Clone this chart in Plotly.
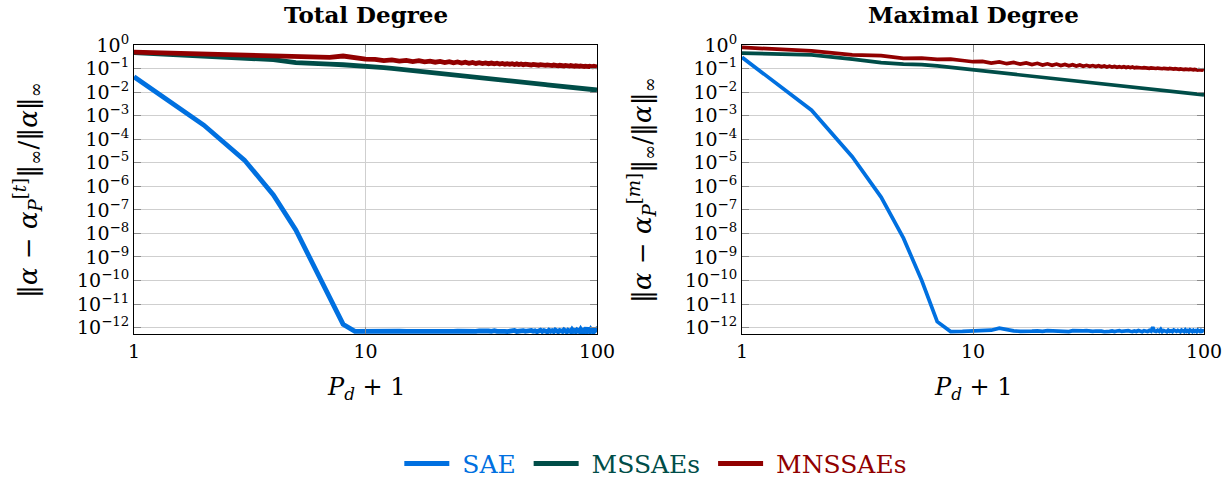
import plotly.graph_objects as go

# ---------------- data ----------------
pd_plus_1 = list(range(1, 101))

sae_total = [
    4.5e-2, 4.0e-4, 1.3e-5, 4.3e-7, 1.4e-8, 4.0e-10, 2.3e-11, 1.4e-12, 7.0e-13,
    7.2e-13, 7.1e-13, 7.2e-13, 7.0e-13, 7.1e-13, 7.0e-13, 6.9e-13, 7.0e-13, 6.9e-13, 6.8e-13,
    6.6e-13, 6.5e-13, 6.8e-13, 7.0e-13, 6.9e-13, 7.1e-13, 7.0e-13, 6.8e-13, 7.2e-13, 7.0e-13,
    6.9e-13, 7.3e-13, 7.0e-13, 6.8e-13, 7.2e-13, 7.0e-13, 7.4e-13, 6.9e-13, 7.1e-13, 7.5e-13,
    7.0e-13, 6.8e-13, 7.3e-13, 7.1e-13, 7.6e-13, 6.9e-13, 7.2e-13, 6.7e-13, 7.5e-13, 7.0e-13,
    7.3e-13, 6.8e-13, 7.6e-13, 7.0e-13, 7.4e-13, 6.7e-13, 7.3e-13, 7.8e-13, 6.9e-13, 7.5e-13,
    7.1e-13, 6.6e-13, 7.7e-13, 7.0e-13, 7.4e-13, 6.8e-13, 7.9e-13, 7.1e-13, 6.7e-13, 7.6e-13,
    7.2e-13, 6.9e-13, 8.0e-13, 7.0e-13, 6.6e-13, 7.7e-13, 7.3e-13, 6.8e-13, 8.2e-13, 7.0e-13,
    7.5e-13, 6.7e-13, 7.9e-13, 7.1e-13, 6.8e-13, 8.4e-13, 7.0e-13, 7.6e-13, 6.6e-13, 8.0e-13,
    9.8e-13, 7.1e-13, 7.7e-13, 6.8e-13, 8.3e-13, 7.2e-13, 6.7e-13, 9.0e-13, 7.4e-13, 8.1e-13,
    6.9e-13,
]

mssae_total = [
    0.47, 0.32, 0.27, 0.24, 0.18, 0.175, 0.155, 0.145, 0.138, 0.132,
    0.12, 0.109, 0.102, 0.095, 0.088, 0.083, 0.078, 0.074, 0.069, 0.065,
    0.062, 0.059, 0.057, 0.054, 0.051, 0.049, 0.047, 0.046, 0.044, 0.0425,
    0.041, 0.040, 0.039, 0.038, 0.036, 0.035, 0.034, 0.033, 0.032, 0.0316,
    0.031, 0.030, 0.0295, 0.029, 0.028, 0.0274, 0.027, 0.026, 0.0256, 0.0251,
    0.0247, 0.0242, 0.0237, 0.0232, 0.0228, 0.0224, 0.022, 0.0215, 0.0212, 0.0208,
    0.0204, 0.0201, 0.0198, 0.0195, 0.0192, 0.0189, 0.0186, 0.0183, 0.018, 0.0178,
    0.0175, 0.0173, 0.017, 0.0168, 0.0166, 0.0164, 0.0161, 0.0159, 0.0157, 0.0155,
    0.0153, 0.0151, 0.0149, 0.0147, 0.0146, 0.0144, 0.0142, 0.014, 0.0139, 0.0137,
    0.0136, 0.0134, 0.0133, 0.0131, 0.013, 0.0128, 0.0127, 0.0126, 0.0124, 0.0123,
]

mnssae_total = [
    0.50, 0.42, 0.39, 0.35, 0.31, 0.33, 0.30, 0.34, 0.28, 0.25,
    0.245, 0.216, 0.233, 0.206, 0.223, 0.198, 0.215, 0.191, 0.207, 0.186,
    0.201, 0.18, 0.196, 0.176, 0.19, 0.172, 0.186, 0.168, 0.182, 0.165,
    0.177, 0.163, 0.174, 0.161, 0.171, 0.158, 0.168, 0.156, 0.165, 0.153,
    0.162, 0.151, 0.16, 0.149, 0.158, 0.147, 0.156, 0.145, 0.154, 0.144,
    0.151, 0.142, 0.15, 0.141, 0.148, 0.139, 0.146, 0.138, 0.145, 0.136,
    0.143, 0.135, 0.142, 0.134, 0.141, 0.132, 0.139, 0.131, 0.138, 0.13,
    0.137, 0.129, 0.136, 0.128, 0.135, 0.127, 0.134, 0.126, 0.133, 0.125,
    0.131, 0.125, 0.130, 0.124, 0.129, 0.123, 0.128, 0.122, 0.127, 0.121,
    0.126, 0.121, 0.125, 0.12, 0.124, 0.119, 0.124, 0.118, 0.123, 0.118,
]

sae_max = [
    0.30, 1.7e-3, 1.8e-5, 3.5e-7, 6.3e-9, 1.0e-10, 1.8e-12, 6.8e-13, 6.9e-13, 7.1e-13,
    7.3e-13, 7.8e-13, 9.5e-13, 7.9e-13, 7.3e-13, 7.0e-13, 6.8e-13, 7.1e-13, 7.3e-13, 7.0e-13,
    7.4e-13, 7.2e-13, 6.9e-13, 7.3e-13, 7.1e-13, 6.8e-13, 7.4e-13, 7.2e-13, 6.9e-13, 7.3e-13,
    7.5e-13, 7.0e-13, 6.9e-13, 7.2e-13, 7.4e-13, 7.1e-13, 6.7e-13, 6.6e-13, 7.0e-13, 7.3e-13,
    6.8e-13, 7.2e-13, 7.5e-13, 6.9e-13, 7.1e-13, 6.7e-13, 7.4e-13, 7.0e-13, 6.8e-13, 7.3e-13,
    6.9e-13, 7.5e-13, 7.0e-13, 6.7e-13, 7.4e-13, 7.1e-13, 6.8e-13, 7.6e-13, 7.0e-13, 1.05e-12,
    7.2e-13, 6.9e-13, 7.7e-13, 7.0e-13, 8.5e-13, 6.8e-13, 7.5e-13, 7.1e-13, 6.7e-13, 7.8e-13,
    7.0e-13, 7.4e-13, 6.8e-13, 7.9e-13, 7.1e-13, 6.9e-13, 7.6e-13, 7.0e-13, 6.7e-13, 7.8e-13,
    7.2e-13, 6.8e-13, 8.0e-13, 7.0e-13, 7.5e-13, 6.7e-13, 7.9e-13, 7.1e-13, 6.8e-13, 7.7e-13,
    7.0e-13, 7.4e-13, 6.8e-13, 7.8e-13, 7.1e-13, 6.9e-13, 7.6e-13, 7.0e-13, 7.3e-13, 6.9e-13,
]

mssae_max = [
    0.45, 0.38, 0.25, 0.18, 0.155, 0.148, 0.129, 0.112, 0.095, 0.085,
    0.077, 0.0703, 0.0646, 0.0598, 0.0556, 0.052, 0.0488, 0.0459, 0.0434, 0.0411,
    0.0391, 0.0372, 0.0355, 0.034, 0.0325, 0.0312, 0.030, 0.0289, 0.0279, 0.0269,
    0.026, 0.0252, 0.0244, 0.0238, 0.0232, 0.0225, 0.0219, 0.0213, 0.0207, 0.0201,
    0.0196, 0.0192, 0.0187, 0.0183, 0.0179, 0.0175, 0.0171, 0.0167, 0.0164, 0.0159,
    0.0156, 0.0153, 0.015, 0.0147, 0.0144, 0.0141, 0.0139, 0.0136, 0.0134, 0.0131,
    0.0129, 0.0127, 0.0125, 0.0123, 0.0121, 0.0119, 0.0117, 0.0115, 0.0113, 0.0111,
    0.011, 0.0108, 0.0107, 0.0105, 0.0104, 0.0102, 0.0101, 0.0099, 0.0098, 0.0097,
    0.0095, 0.0094, 0.0093, 0.0092, 0.0091, 0.009, 0.0089, 0.0088, 0.0087, 0.0086,
    0.0085, 0.0084, 0.0083, 0.0082, 0.0081, 0.008, 0.0079, 0.0078, 0.0077, 0.0076,
]

mnssae_max = [
    0.79, 0.56, 0.38, 0.355, 0.27, 0.275, 0.245, 0.25, 0.22, 0.195,
    0.202, 0.17, 0.19, 0.161, 0.181, 0.154, 0.173, 0.148, 0.167, 0.142,
    0.159, 0.138, 0.155, 0.134, 0.15, 0.131, 0.146, 0.128, 0.142, 0.125,
    0.137, 0.124, 0.134, 0.121, 0.132, 0.119, 0.129, 0.117, 0.127, 0.115,
    0.123, 0.114, 0.121, 0.112, 0.119, 0.110, 0.117, 0.109, 0.1156, 0.107,
    0.1125, 0.1069, 0.1113, 0.1056, 0.1099, 0.1042, 0.1086, 0.103, 0.1071, 0.1018,
    0.1059, 0.1006, 0.1047, 0.0996, 0.1035, 0.0984, 0.1025, 0.0975, 0.1014, 0.0963,
    0.1005, 0.0955, 0.0995, 0.0946, 0.0986, 0.0937, 0.0977, 0.0929, 0.0968, 0.092,
    0.0960, 0.0912, 0.0950, 0.0904, 0.0941, 0.0897, 0.0935, 0.0889, 0.0927, 0.0883,
    0.092, 0.0874, 0.0912, 0.0869, 0.0905, 0.0863, 0.0899, 0.0855, 0.0893, 0.0851,
]

series_names = ["SAE", "MSSAEs", "MNSSAEs"]
series_colors = ["#0070e0", "#004d48", "#910000"]
panel_titles = ["Total Degree", "Maximal Degree"]
y_tick_vals = [10.0 ** (-k) for k in range(0, 13)]
y_tick_text = ["10<sup>0</sup>"] + ["10<sup>\u2212%d</sup>" % k for k in range(1, 13)]
x_tick_vals = [1, 10, 100]
x_tick_text = ["1", "10", "100"]

# ---------------- figure ----------------
W, H = 1231, 481
FONT = "DejaVu Serif"

def px_x(p):
    return p / W

def px_y(p):
    return 1 - p / H

fig = go.Figure()

panels = [
    ([sae_total, mssae_total, mnssae_total], "x", "y", 4.8, True),
    ([sae_max, mssae_max, mnssae_max], "x2", "y2", 3.7, False),
]
for data, xa, ya, lw, show in panels:
    for name, color, vals in zip(series_names, series_colors, data):
        fig.add_trace(go.Scatter(
            x=pd_plus_1, y=vals, mode="lines", xaxis=xa, yaxis=ya,
            name='<span style="color:%s">&nbsp;%s&nbsp;</span>' % (color, name),
            line=dict(color=color, width=lw),
            showlegend=show,
        ))

y_dom = [px_y(334), px_y(45)]
axis_common = dict(
    showline=True, linecolor="black", linewidth=1, mirror="all",
    ticks="inside", ticklen=7, tickcolor="#8a8a8a", tickwidth=1,
    showgrid=True, gridcolor="#cfcfcf", gridwidth=1,
    zeroline=False, automargin=False,
    tickfont=dict(family=FONT, size=19, color="black"),
)
fig.update_layout(
    xaxis=dict(type="log", domain=[px_x(134), px_x(597)], range=[0, 2],
               tickvals=x_tick_vals, ticktext=x_tick_text, anchor="y", **axis_common),
    yaxis=dict(type="log", domain=y_dom, range=[-12.27, 0],
               tickvals=y_tick_vals, ticktext=y_tick_text, anchor="x", **axis_common),
    xaxis2=dict(type="log", domain=[px_x(742), px_x(1204)], range=[0, 2],
                tickvals=x_tick_vals, ticktext=x_tick_text, anchor="y2", **axis_common),
    yaxis2=dict(type="log", domain=y_dom, range=[-12.27, 0],
                tickvals=y_tick_vals, ticktext=y_tick_text, anchor="x2", **axis_common),
)

annotations = []
centers = [366, 973]
ytitle_x = [27, 641]
ytitle_txt = [
    "\u2016<i>\u03b1</i> \u2212 <i>\u03b1</i><sub><i>P</i></sub><sup>[<i>t</i>]</sup>\u2016<sub>\u221e</sub>/\u2016<i>\u03b1</i>\u2016<sub>\u221e</sub>",
    "\u2016<i>\u03b1</i> \u2212 <i>\u03b1</i><sub><i>P</i></sub><sup>[<i>m</i>]</sup>\u2016<sub>\u221e</sub>/\u2016<i>\u03b1</i>\u2016<sub>\u221e</sub>",
]
for i in range(2):
    annotations.append(dict(
        x=px_x(centers[i]), y=px_y(14), xref="paper", yref="paper",
        text="<b>%s</b>" % panel_titles[i], showarrow=False,
        font=dict(family=FONT, size=23, color="black"),
        xanchor="center", yanchor="middle"))
    annotations.append(dict(
        x=px_x(centers[i]), y=px_y(388), xref="paper", yref="paper",
        text="<i>P</i><sub><i>d</i></sub> + 1", showarrow=False,
        font=dict(family=FONT, size=24, color="black"),
        xanchor="center", yanchor="middle"))
    annotations.append(dict(
        x=px_x(ytitle_x[i]), y=px_y(190), xref="paper", yref="paper",
        text=ytitle_txt[i], showarrow=False, textangle=-90,
        font=dict(family=FONT, size=26, color="black"),
        xanchor="center", yanchor="middle"))

fig.update_layout(
    width=W, height=H,
    margin=dict(l=0, r=0, t=0, b=0, autoexpand=False),
    paper_bgcolor="white", plot_bgcolor="white",
    annotations=annotations,
    legend=dict(orientation="h", x=0.536, y=-0.012, xanchor="center", yanchor="bottom",
                font=dict(family=FONT, size=25, color="black"),
                bgcolor="rgba(0,0,0,0)", itemwidth=45),
    font=dict(family=FONT),
)

fig.write_html(
    "out.html",
    config={"displayModeBar": False},
    post_script="document.body.style.margin='0';document.body.style.overflow='hidden';",
)
